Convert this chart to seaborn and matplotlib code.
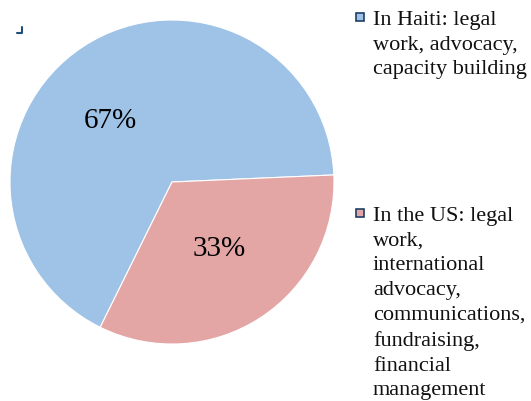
import matplotlib
matplotlib.use("Agg")
import matplotlib.pyplot as plt
from matplotlib.patches import Rectangle
from matplotlib.lines import Line2D
import seaborn as sns

# 数据
CATEGORIES = ["In Haiti: legal\nwork, advocacy,\ncapacity building",
              "In the US: legal\nwork,\ninternational\nadvocacy,\ncommunications,\nfundraising,\nfinancial\nmanagement"]
SHARES = [67, 33]
COLORS = ["#9fc2e7", "#e3a6a5"]
LABEL_POS = [(-0.383, 0.377), (0.29, -0.414)]

sns.set_theme(style="white")
plt.rcParams["font.family"] = ["Liberation Serif", "DejaVu Serif"]

fig = plt.figure(figsize=(5.31, 4.01), dpi=100)
ax = fig.add_axes([0.0188, 0.1421, 0.6102, 0.808])

wedges, texts, autotexts = ax.pie(
    SHARES, colors=COLORS, startangle=243.7, counterclock=False,
    autopct="%d%%", wedgeprops={"edgecolor": "white", "linewidth": 0.8},
    textprops={"fontsize": 21, "color": "black"},
)
for t, pos in zip(autotexts, LABEL_POS):
    t.set_position(pos)
ax.set_xlim(-1, 1)
ax.set_ylim(-1, 1)
ax.set_aspect("equal")
ax.axis("off")

# 图例（手动排布）
legend_y = [0.957, 0.468]
for color, label, y in zip(COLORS, CATEGORIES, legend_y):
    fig.patches.append(Rectangle((0.6705, y - 0.009), 0.0155, 0.0205, transform=fig.transFigure,
                                 facecolor=color, edgecolor="#1f3f66", linewidth=1.2))
    fig.text(0.7025, y + 0.016, label, fontsize=16, va="top", ha="left",
             linespacing=1.41, color="#111111")

# 左上角小标记
fig.lines.append(Line2D([0.032, 0.041, 0.041], [0.918, 0.918, 0.933],
                        transform=fig.transFigure, color="#1f4e79", linewidth=1.5))

fig.savefig("out.png", dpi=100, facecolor="white")
